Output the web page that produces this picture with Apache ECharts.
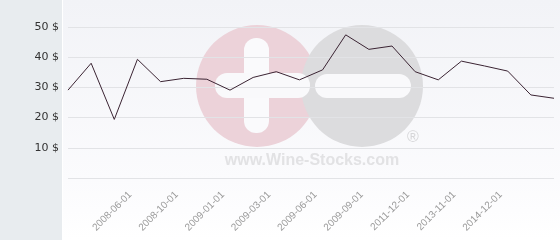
<!DOCTYPE html>
<html><head><meta charset="utf-8">
<script src="https://cdn.jsdelivr.net/npm/echarts@6/dist/echarts.min.js"></script>
<style>html,body{margin:0;padding:0;background:#fff}#c{width:560px;height:240px}</style>
</head><body><div id="c"></div>
<script>
var categories = ['', '', '', '2008-06-01', '', '2008-10-01', '', '2009-01-01', '', '2009-03-01', '', '2009-06-01', '', '2009-09-01', '', '2011-12-01', '', '2013-11-01', '', '2014-12-01', '', ''];
var prices = [29.1, 38.0, 19.4, 39.3, 31.9, 33.0, 32.7, 29.1, 33.3, 35.2, 32.5, 35.8, 47.4, 42.6, 43.7, 35.2, 32.5, 38.7, 37.1, 35.4, 27.5, 26.4];
var yTicks = [10, 20, 30, 40, 50];

var chart = echarts.init(document.getElementById('c'), null, {renderer: 'canvas'});
chart.setOption({
  animation: false,
  graphic: [
    {type: 'rect', z: -100, shape: {x: 0, y: 0, width: 62, height: 240}, style: {fill: '#e8ecef'}},
    {type: 'rect', z: -100, shape: {x: 62, y: 0, width: 1, height: 240}, style: {fill: '#ffffff'}},
    {type: 'rect', z: -100, shape: {x: 63, y: 0, width: 497, height: 240},
      style: {fill: new echarts.graphic.LinearGradient(0, 0, 0, 1, [{offset: 0, color: '#f2f3f7'}, {offset: 0.75, color: '#fbfbfd'}, {offset: 1, color: '#ffffff'}])}},
    {type: 'circle', z: -90, shape: {cx: 257, cy: 86, r: 61}, style: {fill: '#ecd2d9'}},
    {type: 'circle', z: -89, shape: {cx: 362, cy: 86, r: 61}, style: {fill: '#dcdcde'}},
    {type: 'rect', z: -80, shape: {x: 244, y: 38, width: 25, height: 95, r: 12}, style: {fill: '#fafafc'}},
    {type: 'rect', z: -80, shape: {x: 215, y: 73, width: 95, height: 25, r: 12}, style: {fill: '#f9f9fb'}},
    {type: 'rect', z: -80, shape: {x: 315, y: 74, width: 96, height: 24, r: 12}, style: {fill: '#f9f9fb'}},
    {type: 'text', z: -80, x: 413, y: 138, style: {text: '®', font: '16px "Liberation Sans"', fill: '#d6d6d8', align: 'center', verticalAlign: 'middle'}},
    {type: 'text', z: -80, x: 312, y: 161, style: {text: 'www.Wine-Stocks.com', font: 'bold 16px "Liberation Sans"', fill: '#e2e2e4', align: 'center', verticalAlign: 'middle'}}
  ],
  grid: {left: 68, right: 6, top: 27, bottom: 62, containLabel: false},
  xAxis: {
    type: 'category', data: categories, boundaryGap: false,
    axisLine: {show: false}, axisTick: {show: false},
    axisLabel: {
      rotate: 45, margin: 8, color: '#9a9a9a', fontSize: 10, fontFamily: 'Liberation Sans',
      padding: [0, 10, 0, 0],
      interval: function (i, v) { return v !== ''; }
    },
    splitLine: {show: false}
  },
  yAxis: {
    type: 'value', min: 0, max: 50, interval: 10,
    axisLine: {show: false}, axisTick: {show: false},
    axisLabel: {
      margin: 9, color: '#333', fontSize: 11, fontFamily: 'DejaVu Sans',
      formatter: function (v) { return yTicks.indexOf(v) >= 0 ? v + ' $' : ''; }
    },
    splitLine: {lineStyle: {color: '#e2e3e6', width: 1}}
  },
  series: [{
    type: 'line', data: prices, showSymbol: false, symbol: 'none',
    lineStyle: {color: '#3b2433', width: 1}
  }]
});
</script></body></html>
